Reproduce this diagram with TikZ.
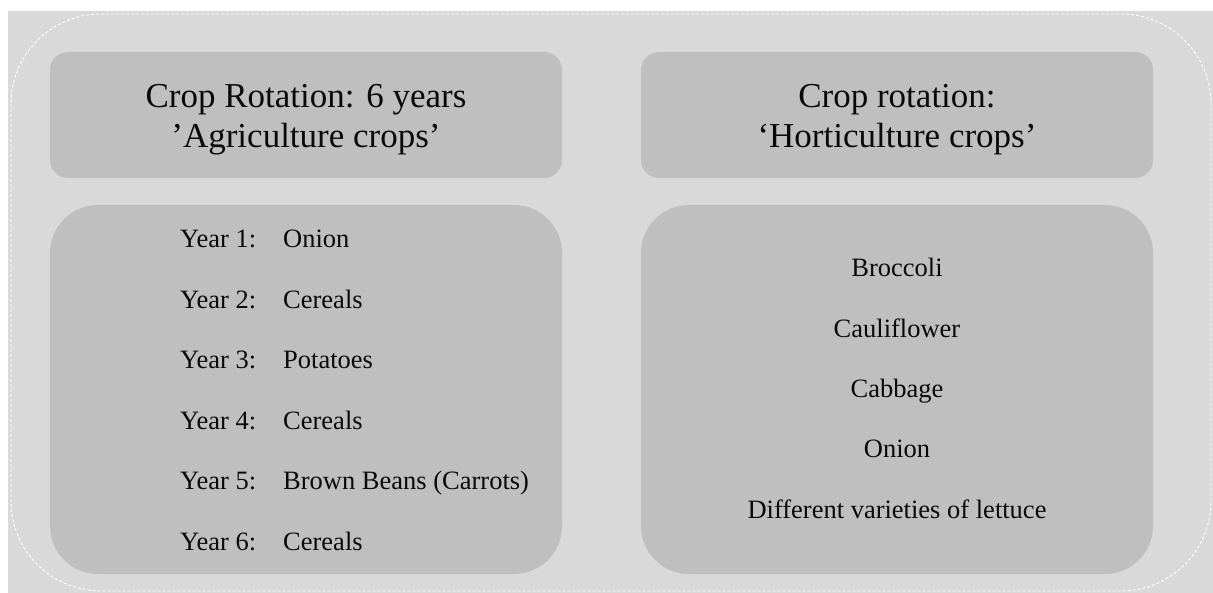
\documentclass[tikz,border=0pt]{standalone}
\usepackage{fontspec}
\setmainfont{Liberation Serif}
\usepackage{tikz}

\definecolor{pagegray}{HTML}{D9D9D9}
\definecolor{boxgray}{HTML}{BFBFBF}
\definecolor{inkdark}{HTML}{0A0A0A}

\begin{document}
\begin{tikzpicture}[x=1pt, y=-1pt,
  every node/.style = {text=inkdark},
  headbox/.style = {shape=rectangle, fill=boxgray,
    rounded corners=18pt, minimum width=512pt, minimum height=126pt},
  headtext/.style = {align=center, yshift=-5pt,
    font=\fontsize{35}{40}\selectfont},
  listbox/.style = {shape=rectangle, fill=boxgray,
    rounded corners=48pt, minimum width=512pt, minimum height=369pt},
  item/.style = {inner sep=0pt, font=\fontsize{26.5}{30}\selectfont}]
  \useasboundingbox (0,0) rectangle (1213,593);
  % page and its dashed frame
  \fill[pagegray] (8,11) rectangle (1213,593);
  \draw[white, line width=0.9pt, dash pattern=on 3pt off 2pt,
    rounded corners=90pt] (11,14) rectangle (1211,591);

  % headings
  \node[headbox] (aghead) at (306,115) {};
  \node[headbox] (hohead) at (897,115) {};
  \node[headtext] (agtitle) at (aghead.center)
    {Crop Rotation: 6 years\\ 'Agriculture crops'};
  \node[headtext] (hotitle) at (hohead.center)
    {Crop rotation:\\ `Horticulture crops'};

  % lists
  \node[listbox] (aglist) at (306,389.5) {};
  \node[listbox] (holist) at (897,389.5) {};

  \foreach \crop [count=\i] in {Onion, Cereals, Potatoes, Cereals,
      Brown Beans (Carrots), Cereals} {
    \node[item, anchor=base west] (year\i) at (180,187.6+60.4*\i) {Year \i:};
    \node[item, anchor=base west] (crop\i) at (283,187.6+60.4*\i) {\crop};
  }

  \foreach \veg [count=\i] in {Broccoli, Cauliflower, Cabbage, Onion,
      Different varieties of lettuce}
    \node[item, anchor=base] (veg\i) at (897,216.7+60.3*\i) {\veg};
\end{tikzpicture}
\end{document}
